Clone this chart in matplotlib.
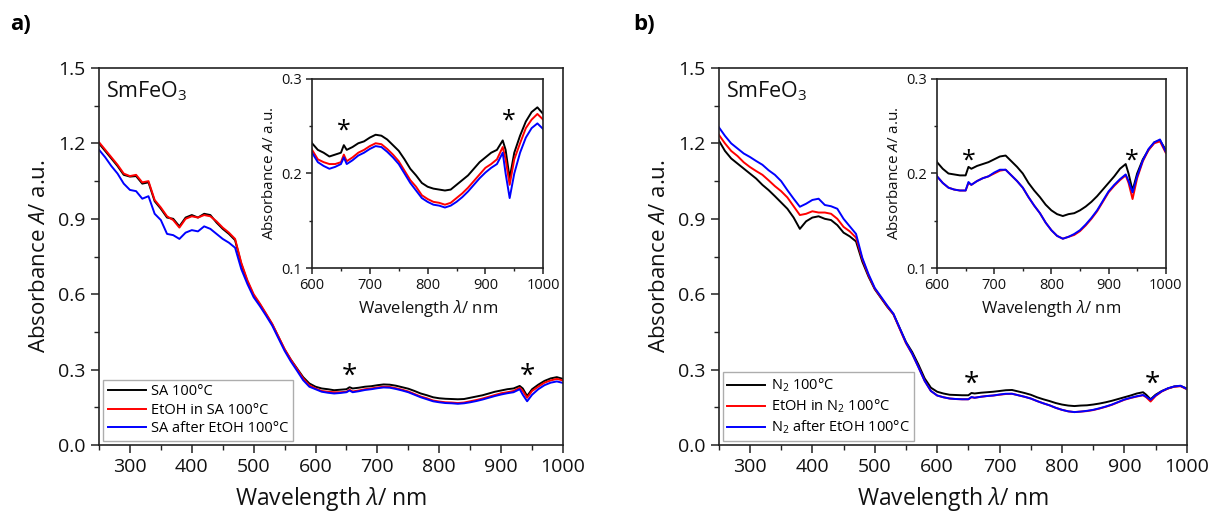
import matplotlib
matplotlib.use("Agg")
import matplotlib.pyplot as plt
from matplotlib.ticker import MultipleLocator

plt.rcParams['font.family'] = ['Open Sans', 'DejaVu Sans']
plt.rcParams['mathtext.fontset'] = 'custom'
plt.rcParams['mathtext.rm'] = 'Open Sans'
plt.rcParams['mathtext.it'] = 'Open Sans:italic'

# wavelength grid (nm)
wl = [250, 260, 270, 280, 290, 300, 310, 320, 330, 340, 350, 360, 370, 380, 390,
      400, 410, 420, 430, 440, 450, 460, 470, 480, 490, 500, 510, 520, 530, 540,
      550, 560, 570, 580, 590, 600, 610, 620, 630, 640, 650, 655, 660, 670, 680,
      690, 700, 710, 720, 730, 740, 750, 760, 770, 780, 790, 800, 810, 820, 830,
      840, 850, 860, 870, 880, 890, 900, 910, 920, 930, 935, 942, 950, 960, 970,
      980, 990, 1000]

# panel a) synthetic air
a_sa = [1.200, 1.170, 1.140, 1.110, 1.075, 1.068, 1.070, 1.040, 1.045, 0.970, 0.940, 0.905, 0.900, 0.870, 0.905,
        0.915, 0.905, 0.920, 0.915, 0.885, 0.860, 0.840, 0.815, 0.720, 0.650, 0.595, 0.560, 0.520, 0.480, 0.430,
        0.380, 0.340, 0.305, 0.270, 0.245, 0.232, 0.225, 0.222, 0.218, 0.220, 0.222, 0.230, 0.225, 0.228, 0.232,
        0.234, 0.238, 0.241, 0.240, 0.236, 0.230, 0.224, 0.215, 0.205, 0.198, 0.190, 0.186, 0.184, 0.183, 0.182,
        0.183, 0.188, 0.193, 0.198, 0.205, 0.212, 0.217, 0.222, 0.225, 0.235, 0.225, 0.195, 0.222, 0.240, 0.255,
        0.265, 0.270, 0.263]
a_etoh = [1.205, 1.175, 1.145, 1.115, 1.080, 1.070, 1.075, 1.045, 1.050, 0.975, 0.945, 0.910, 0.895, 0.865, 0.900,
          0.910, 0.905, 0.915, 0.910, 0.890, 0.865, 0.845, 0.820, 0.725, 0.655, 0.600, 0.563, 0.523, 0.482, 0.432,
          0.382, 0.340, 0.303, 0.265, 0.238, 0.225, 0.215, 0.212, 0.210, 0.210, 0.212, 0.220, 0.213, 0.217, 0.222,
          0.225, 0.229, 0.232, 0.231, 0.226, 0.220, 0.213, 0.203, 0.193, 0.186, 0.177, 0.173, 0.170, 0.169, 0.167,
          0.169, 0.174, 0.179, 0.185, 0.192, 0.199, 0.206, 0.210, 0.215, 0.228, 0.215, 0.188, 0.215, 0.232, 0.248,
          0.257, 0.263, 0.257]
a_after = [1.175, 1.145, 1.110, 1.080, 1.040, 1.015, 1.010, 0.980, 0.990, 0.920, 0.895, 0.840, 0.835, 0.820, 0.845,
           0.855, 0.850, 0.870, 0.860, 0.840, 0.820, 0.805, 0.785, 0.700, 0.640, 0.588, 0.553, 0.515, 0.475, 0.425,
           0.375, 0.333, 0.296, 0.258, 0.232, 0.222, 0.212, 0.208, 0.205, 0.207, 0.210, 0.217, 0.210, 0.214, 0.219,
           0.222, 0.226, 0.229, 0.228, 0.223, 0.217, 0.210, 0.200, 0.190, 0.182, 0.174, 0.170, 0.167, 0.166, 0.164,
           0.166, 0.170, 0.175, 0.181, 0.188, 0.195, 0.201, 0.206, 0.210, 0.222, 0.200, 0.174, 0.200, 0.222, 0.238,
           0.248, 0.253, 0.247]

# panel b) nitrogen
b_n2 = [1.212, 1.170, 1.140, 1.120, 1.100, 1.080, 1.060, 1.035, 1.014, 0.990, 0.965, 0.940, 0.905, 0.860, 0.890,
        0.905, 0.910, 0.900, 0.895, 0.875, 0.845, 0.830, 0.810, 0.730, 0.670, 0.620, 0.585, 0.550, 0.520, 0.465,
        0.410, 0.370, 0.320, 0.265, 0.228, 0.212, 0.205, 0.200, 0.199, 0.198, 0.198, 0.207, 0.205, 0.208, 0.210,
        0.212, 0.215, 0.218, 0.219, 0.213, 0.207, 0.200, 0.190, 0.182, 0.175, 0.167, 0.161, 0.157, 0.155, 0.157,
        0.158, 0.161, 0.165, 0.170, 0.176, 0.183, 0.190, 0.197, 0.205, 0.210, 0.200, 0.182, 0.200, 0.215, 0.225,
        0.233, 0.235, 0.225]
b_etoh = [1.235, 1.200, 1.170, 1.150, 1.125, 1.106, 1.090, 1.075, 1.053, 1.030, 1.010, 0.985, 0.950, 0.915, 0.920,
          0.930, 0.925, 0.925, 0.920, 0.900, 0.868, 0.850, 0.825, 0.740, 0.675, 0.622, 0.587, 0.552, 0.520, 0.462,
          0.405, 0.362, 0.310, 0.255, 0.215, 0.197, 0.190, 0.185, 0.183, 0.182, 0.182, 0.190, 0.188, 0.192, 0.195,
          0.197, 0.200, 0.203, 0.204, 0.198, 0.192, 0.185, 0.175, 0.166, 0.158, 0.148, 0.140, 0.134, 0.131, 0.133,
          0.135, 0.139, 0.145, 0.152, 0.160, 0.170, 0.180, 0.187, 0.193, 0.198, 0.190, 0.173, 0.195, 0.213, 0.225,
          0.232, 0.234, 0.222]
b_after = [1.265, 1.230, 1.200, 1.180, 1.160, 1.146, 1.130, 1.115, 1.093, 1.075, 1.050, 1.014, 0.980, 0.948, 0.960,
           0.975, 0.980, 0.955, 0.950, 0.940, 0.900, 0.870, 0.840, 0.745, 0.680, 0.625, 0.590, 0.555, 0.522, 0.465,
           0.408, 0.363, 0.310, 0.255, 0.215, 0.197, 0.190, 0.185, 0.183, 0.182, 0.182, 0.191, 0.188, 0.192, 0.195,
           0.197, 0.201, 0.204, 0.204, 0.198, 0.192, 0.185, 0.175, 0.166, 0.158, 0.148, 0.140, 0.134, 0.131, 0.133,
           0.136, 0.140, 0.146, 0.153, 0.161, 0.171, 0.181, 0.188, 0.194, 0.199, 0.192, 0.180, 0.197, 0.214, 0.226,
           0.233, 0.236, 0.223]

labels_a = ['SA 100°C', 'EtOH in SA 100°C', 'SA after EtOH 100°C']
labels_b = ['N$_2$ 100°C', 'EtOH in N$_2$ 100°C', 'N$_2$ after EtOH 100°C']
colors = ['#000000', '#ff0000', '#0000ff']
stars_a = [(655, 0.27), (942, 0.27)]
stars_a_in = [(655, 0.245), (940, 0.255)]
stars_b = [(655, 0.24), (945, 0.24)]
stars_b_in = [(655, 0.213), (940, 0.213)]

txt = '#111111'

fig = plt.figure(figsize=(12.1, 5.2), dpi=100)


def style(ax, fs):
    for s in ax.spines.values():
        s.set_linewidth(1.2)
        s.set_color('#222222')
    ax.tick_params(which='both', direction='out', colors='#222222', labelcolor=txt,
                   labelsize=fs, top=False, right=False)
    ax.tick_params(which='major', length=6, width=1.1)
    ax.tick_params(which='minor', length=3.5, width=1.0)


def panel(rect, inrect, series, labels, stars, stars_in, letter, lx):
    ax = fig.add_axes(rect)
    for y, c, lab in zip(series, colors, labels):
        ax.plot(wl, y, color=c, lw=1.4, label=lab)
    ax.set_xlim(250, 1000)
    ax.set_ylim(0, 1.5)
    ax.xaxis.set_minor_locator(MultipleLocator(50))
    ax.yaxis.set_major_locator(MultipleLocator(0.3))
    ax.yaxis.set_minor_locator(MultipleLocator(0.15))
    ax.set_xticks(range(300, 1001, 100))
    style(ax, 14)
    ax.set_xlabel('Wavelength $\\lambda$/ nm', fontsize=16.5, color=txt, labelpad=6)
    ax.set_ylabel('Absorbance $A$/ a.u.', fontsize=16, color=txt, labelpad=6)
    ax.text(0.015, 0.97, 'SmFeO$_3$', transform=ax.transAxes, fontsize=15.5,
            va='top', ha='left', color=txt)
    for x, y in stars:
        ax.text(x, y, '*', fontsize=20, ha='center', va='center')
    leg = ax.legend(loc='lower left', fontsize=10.5, frameon=True, fancybox=False,
                    handlelength=2.6, borderpad=0.3, labelspacing=0.25,
                    handletextpad=0.4, borderaxespad=0.3)
    leg.get_frame().set_edgecolor('#999999')
    leg.get_frame().set_linewidth(1.0)
    fig.text(lx, 0.953, letter, fontsize=16, fontweight='bold', ha='left', va='center')

    ins = fig.add_axes(inrect)
    for y, c in zip(series, colors):
        ins.plot(wl, y, color=c, lw=1.4)
    ins.set_xlim(600, 1000)
    ins.set_ylim(0.1, 0.3)
    ins.xaxis.set_major_locator(MultipleLocator(100))
    ins.xaxis.set_minor_locator(MultipleLocator(50))
    ins.yaxis.set_major_locator(MultipleLocator(0.1))
    ins.yaxis.set_minor_locator(MultipleLocator(0.05))
    style(ins, 10.5)
    ins.tick_params(which='major', length=4)
    ins.tick_params(which='minor', length=2.5)
    ins.set_xlabel('Wavelength $\\lambda$/ nm', fontsize=12, color=txt, labelpad=3)
    ins.set_ylabel('Absorbance $A$/ a.u.', fontsize=11, color=txt, labelpad=3)
    for x, y in stars_in:
        ins.text(x, y, '*', fontsize=18, ha='center', va='center')


panel([0.0818, 0.1442, 0.3835, 0.725], [0.2579, 0.4846, 0.191, 0.3635],
      [a_sa, a_etoh, a_after], labels_a, stars_a, stars_a_in, 'a)', 0.008)
panel([0.594, 0.1442, 0.3868, 0.725], [0.7744, 0.4846, 0.189, 0.3635],
      [b_n2, b_etoh, b_after], labels_b, stars_b, stars_b_in, 'b)', 0.523)

fig.savefig('out.png', dpi=100)
